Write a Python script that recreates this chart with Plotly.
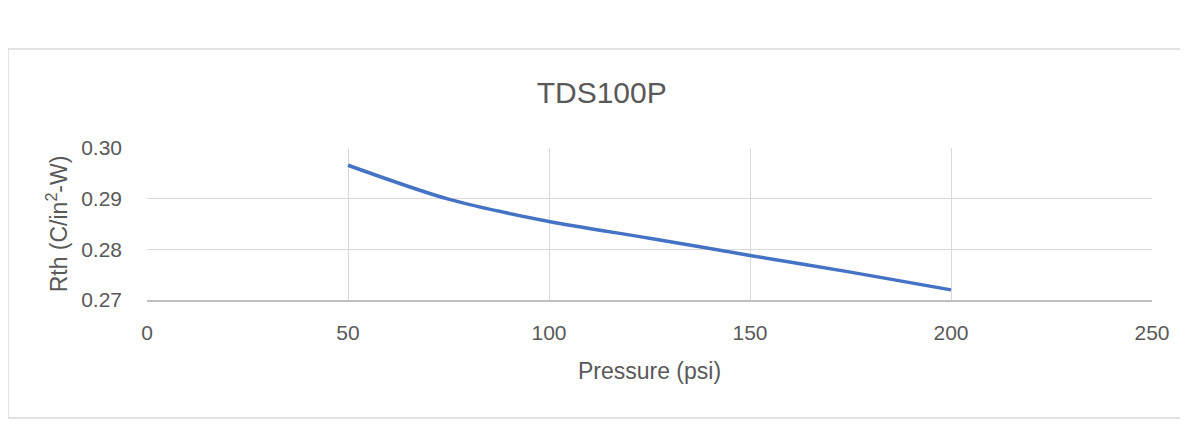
import plotly.graph_objects as go

pressure = [50, 75, 100, 125, 150, 175, 200]
rth = [0.2966, 0.2899, 0.2855, 0.2822, 0.2788, 0.2755, 0.2720]
x_ticks = [0, 50, 100, 150, 200, 250]
y_ticks = [0.27, 0.28, 0.29, 0.30]

# page is offset by the 8px body margin; work in figure coordinates
OFF = 8
W, H = 1199 - OFF, 424 - OFF
L, T = 147 - OFF, 148 - OFF
R = W - (1152 - OFF)
B = H - (300 - OFF)
pw, ph = W - L - R, H - T - B

def px(xp):
    return (xp - OFF - L) / pw

def py(yp):
    return (H - B - (yp - OFF)) / ph

FONT = "Liberation Sans"
TXT = "#595959"
GRID = "#d9d9d9"
BORDER = dict(color="#d9d9d9", width=1.5)

fig = go.Figure()
fig.add_trace(go.Scatter(
    x=pressure, y=rth, mode="lines",
    line=dict(color="#4472C4", width=3.5, shape="spline", smoothing=0.8),
    hoverinfo="x+y", showlegend=False,
))

fig.update_layout(
    width=W, height=H,
    margin=dict(l=L, r=R, t=T, b=B, pad=0),
    paper_bgcolor="white", plot_bgcolor="white",
    font=dict(family=FONT, color=TXT, size=20),
    title=dict(text="TDS100P", x=(601.7 - OFF) / W, xanchor="center",
               y=1 - (92.5 - OFF) / H, yanchor="middle",
               font=dict(size=30, color=TXT, family=FONT)),
    xaxis=dict(
        range=[0, 250], tickvals=x_ticks, showgrid=True, gridcolor=GRID, gridwidth=1.3,
        zeroline=False, showline=True, linecolor="#bfbfbf", linewidth=1.5,
        ticks="", ticklabelstandoff=13, tickfont=dict(size=21, color=TXT),
        title=dict(text="Pressure (psi)", standoff=20, font=dict(size=23, color=TXT)),
    ),
    yaxis=dict(
        range=[0.27, 0.30], tickvals=y_ticks, tickformat=".2f", showgrid=True,
        gridcolor=GRID, gridwidth=1.3, zeroline=False, showline=False,
        ticks="", ticklabelstandoff=24, tickfont=dict(size=21, color=TXT),
        title=dict(text="Rth (C/in<sup>2</sup>-W)", standoff=7, font=dict(size=23, color=TXT)),
    ),
    shapes=[
        dict(type="line", xref="paper", yref="paper", x0=px(8), x1=px(8),
             y0=py(418), y1=py(49), line=BORDER, layer="below"),
        dict(type="line", xref="paper", yref="paper", x0=px(8), x1=px(1180),
             y0=py(49), y1=py(49), line=BORDER, layer="below"),
        dict(type="line", xref="paper", yref="paper", x0=px(8), x1=px(1180),
             y0=py(418), y1=py(418), line=BORDER, layer="below"),
    ],
)

fig.write_html(
    "out.html",
    post_script="document.documentElement.style.overflow='hidden';"
                "document.body.style.overflow='hidden';",
)
